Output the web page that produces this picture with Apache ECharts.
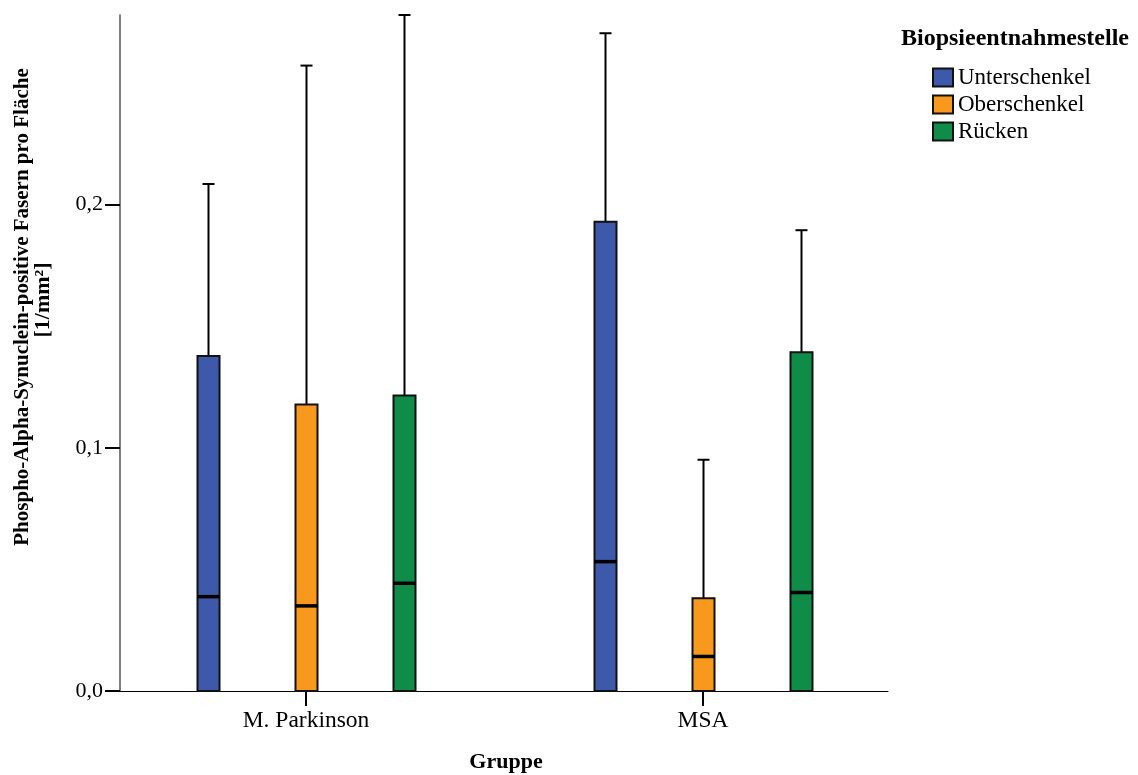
<!DOCTYPE html>
<html>
<head>
<meta charset="utf-8">
<script src="https://cdn.jsdelivr.net/npm/echarts@6/dist/echarts.min.js"></script>
<style>
  html, body { margin: 0; padding: 0; background: #fff; }
  #chart { width: 1138px; height: 775px; }
</style>
</head>
<body>
<div id="chart"></div>
<script>
// Groups on the x axis and biopsy sites drawn side by side within each group
const groups = ['M. Parkinson', 'MSA'];
const sites = ['Unterschenkel', 'Oberschenkel', 'Rücken'];
const siteColors = ['#3e58aa', '#f8991d', '#0f8c48'];

// Box statistics per site, one row per group: [min, Q1, median, Q3, max]
const unterschenkel = [
  [0, 0, 0.0388, 0.1378, 0.2085],
  [0, 0, 0.0532, 0.1930, 0.2705]
];
const oberschenkel = [
  [0, 0, 0.0350, 0.1178, 0.2572],
  [0, 0, 0.0142, 0.0381, 0.0951]
];
const ruecken = [
  [0, 0, 0.0443, 0.1215, 0.2780],
  [0, 0, 0.0405, 0.1393, 0.1895]
];
const siteStats = [unterschenkel, oberschenkel, ruecken];

// Y axis tick values
const yTicks = [0, 0.1, 0.2];

const FONT = 'Liberation Serif';
const siteOffset = [-0.247, 0, 0.247];

function renderBox(params, api) {
  const x = api.value(0);
  const pMax = api.coord([x, api.value(5)]);
  const pQ3 = api.coord([x, api.value(4)]);
  const pMed = api.coord([x, api.value(3)]);
  const pQ1 = api.coord([x, api.value(2)]);
  const pMin = api.coord([x, api.value(1)]);
  const cx = Math.round(pQ3[0]) + 0.5;
  const halfW = 11;
  const capHalf = 6;
  const color = api.visual('color');
  const children = [
    { type: 'line', shape: { x1: cx, y1: pQ3[1], x2: cx, y2: pMax[1] },
      style: { stroke: '#000', lineWidth: 2 } },
    { type: 'line', shape: { x1: cx - capHalf, y1: pMax[1], x2: cx + capHalf, y2: pMax[1] },
      style: { stroke: '#000', lineWidth: 2 } },
    { type: 'line', shape: { x1: cx, y1: pQ1[1], x2: cx, y2: pMin[1] },
      style: { stroke: '#000', lineWidth: 2 } },
    { type: 'rect', shape: { x: cx - halfW, y: pQ3[1], width: halfW * 2, height: pQ1[1] - pQ3[1] },
      style: { fill: color, stroke: '#111', lineWidth: 2 } },
    { type: 'line', shape: { x1: cx - halfW, y1: pMed[1], x2: cx + halfW, y2: pMed[1] },
      style: { stroke: '#000', lineWidth: 3.5 } }
  ];
  return { type: 'group', children: children };
}

const series = sites.map(function (site, s) {
  return {
    name: site,
    type: 'custom',
    renderItem: renderBox,
    itemStyle: { color: siteColors[s] },
    encode: { x: 0, y: [1, 2, 3, 4, 5] },
    data: siteStats[s].map(function (st, g) {
      return [g + 1 + siteOffset[s]].concat(st);
    }),
    z: 3
  };
});

const chart = echarts.init(document.getElementById('chart'));
chart.setOption({
  backgroundColor: '#fff',
  animation: false,
  grid: { left: 120, right: 250, top: 15, bottom: 84 },
  xAxis: {
    type: 'value',
    min: 0.5315,
    max: 2.466,
    splitLine: { show: false },
    axisLine: { show: true, onZero: false, lineStyle: { color: '#000', width: 1 } },
    axisTick: {
      show: true, length: 15, customValues: [1, 2],
      lineStyle: { color: '#000', width: 2 }
    },
    axisLabel: {
      customValues: [1, 2],
      margin: 18,
      fontFamily: FONT, fontSize: 23.5, color: '#000',
      formatter: function (v) { return groups[Math.round(v) - 1]; }
    }
  },
  yAxis: {
    type: 'value',
    min: 0,
    max: 0.278,
    interval: 0.1,
    splitLine: { show: false },
    axisLine: { show: true, lineStyle: { color: '#555', width: 1.5 } },
    axisTick: {
      show: true, length: 15, customValues: yTicks,
      lineStyle: { color: '#000', width: 2 }
    },
    axisLabel: {
      customValues: yTicks,
      margin: 17,
      fontFamily: FONT, fontSize: 22, color: '#000',
      formatter: function (v) { return v.toFixed(1).replace('.', ','); }
    }
  },
  legend: {
    data: sites,
    orient: 'vertical',
    left: 927,
    top: 61,
    icon: 'rect',
    itemWidth: 20,
    itemHeight: 18,
    itemGap: 4,
    itemStyle: { borderColor: '#111', borderWidth: 2 },
    textStyle: { fontFamily: FONT, fontSize: 23, color: '#000', lineHeight: 22 }
  },
  graphic: [
    {
      type: 'text',
      style: {
        x: 1015, y: 39, text: 'Biopsieentnahmestelle',
        fontFamily: FONT, fontSize: 24, fontWeight: 'bold', fill: '#000',
        textAlign: 'center', textVerticalAlign: 'middle'
      }
    },
    {
      type: 'text',
      style: {
        x: 506, y: 762, text: 'Gruppe',
        fontFamily: FONT, fontSize: 22, fontWeight: 'bold', fill: '#000',
        textAlign: 'center', textVerticalAlign: 'middle'
      }
    },
    {
      type: 'text', x: 23, y: 307, rotation: Math.PI / 2,
      style: {
        x: 0, y: 0, text: 'Phospho-Alpha-Synuclein-positive Fasern pro Fläche',
        fontFamily: FONT, fontSize: 21, fontWeight: 'bold', fill: '#000',
        textAlign: 'center', textVerticalAlign: 'middle'
      }
    },
    {
      type: 'text', x: 43, y: 300, rotation: Math.PI / 2,
      style: {
        x: 0, y: 0, text: '[1/mm²]',
        fontFamily: FONT, fontSize: 22, fontWeight: 'bold', fill: '#000',
        textAlign: 'center', textVerticalAlign: 'middle'
      }
    }
  ],
  series: series
});
</script>
</body>
</html>
